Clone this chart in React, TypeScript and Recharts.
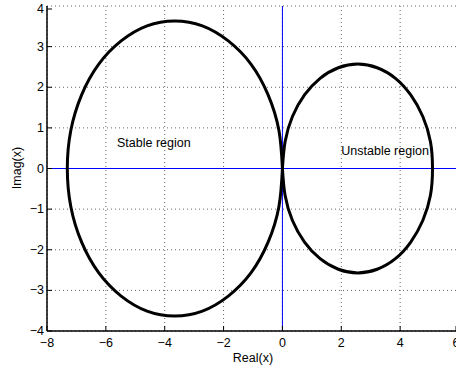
import { ComposedChart, Line, XAxis, YAxis, CartesianGrid, ReferenceLine, ReferenceDot, Label } from 'recharts';

// boundary, traced from the origin round and back
const stableRe = [0, -0.12, -0.49, -1.07, -1.84, -2.72, -3.66, -4.6, -5.48, -6.24, -6.82, -7.19, -7.31, -7.19, -6.82, -6.24, -5.48, -4.6, -3.66, -2.72, -1.84, -1.07, -0.49, -0.12, 0];
const stableIm = [0, 0.94, 1.82, 2.57, 3.14, 3.51, 3.63, 3.51, 3.14, 2.57, 1.82, 0.94, 0, -0.94, -1.82, -2.57, -3.14, -3.51, -3.63, -3.51, -3.14, -2.57, -1.82, -0.94, 0];
const unstableRe = [0, 0.09, 0.34, 0.75, 1.28, 1.9, 2.56, 3.22, 3.84, 4.36, 4.77, 5.03, 5.1, 5.03, 4.77, 4.36, 3.84, 3.22, 2.56, 1.9, 1.28, 0.75, 0.34, 0.09, 0];
const unstableIm = [0, 0.66, 1.28, 1.81, 2.22, 2.48, 2.57, 2.48, 2.22, 1.81, 1.28, 0.66, 0, -0.66, -1.28, -1.81, -2.22, -2.48, -2.57, -2.48, -2.22, -1.81, -1.28, -0.66, 0];

const xTicks = [-8, -6, -4, -2, 0, 2, 4, 6];
const yTicks = [-4, -3, -2, -1, 0, 1, 2, 3, 4];

const stable = stableRe.map((x, i) => ({ x, y: stableIm[i] }));
const unstable = unstableRe.map((x, i) => ({ x, y: unstableIm[i] }));

const FONT = '"Liberation Sans", Arial, sans-serif';
const FS = 12.5;
const fmt = (v: number) => (v < 0 ? `\u2212${-v}` : `${v}`);

const BottomTick = (props: any) => {
  const { x, y, payload } = props;
  return (
    <g>
      <line x1={x} y1={y} x2={x} y2={y - 5} stroke="#000" />
      <text x={x} y={y + 12} textAnchor="middle" dominantBaseline="central" fontSize={FS} fontFamily={FONT} fill="#000">
        {fmt(payload.value)}
      </text>
    </g>
  );
};

const TopTick = (props: any) => {
  const { x, y } = props;
  return <line x1={x} y1={y} x2={x} y2={y + 5} stroke="#000" />;
};

const LeftTick = (props: any) => {
  const { x, y, payload } = props;
  return (
    <g>
      <line x1={x} y1={y} x2={x + 5} y2={y} stroke="#000" />
      <text x={x - 3} y={y} textAnchor="end" dominantBaseline="central" fontSize={FS} fontFamily={FONT} fill="#000">
        {fmt(payload.value)}
      </text>
    </g>
  );
};

const regionText = (text: string) => (p: any) => (
  <text x={p.cx} y={p.cy} dominantBaseline="central" fontSize={FS} fontFamily={FONT} fill="#000">
    {text}
  </text>
);

export default function App() {
  return (
    <div style={{ position: 'absolute', left: 0, top: 0, width: 456, height: 369, overflow: 'hidden', background: '#fff' }}>
      <ComposedChart width={460} height={369} margin={{ top: 6, right: 1, bottom: 0, left: 7 }}>
        <CartesianGrid stroke="#666" strokeDasharray="1 3" />
        <XAxis
          dataKey="x"
          type="number"
          domain={[-8, 6]}
          ticks={xTicks}
          allowDataOverflow
          height={38}
          tickSize={0}
          tickMargin={0}
          tick={BottomTick}
          axisLine={{ stroke: '#000', strokeWidth: 1.5 }}
          tickLine={false}
        >
          <Label
            content={() => (
              <text x={253} y={358} textAnchor="middle" dominantBaseline="central" fontSize={FS} fontFamily={FONT} fill="#000">
                Real(x)
              </text>
            )}
          />
        </XAxis>
        <XAxis
          xAxisId="top"
          orientation="top"
          type="number"
          domain={[-8, 6]}
          ticks={xTicks}
          height={0}
          tickSize={0}
          tickMargin={0}
          tick={TopTick}
          axisLine={{ stroke: '#000', strokeWidth: 1.5 }}
          tickLine={false}
        />
        <YAxis
          type="number"
          domain={[-4, 4]}
          ticks={yTicks}
          allowDataOverflow
          width={40}
          tickSize={0}
          tickMargin={0}
          tick={LeftTick}
          axisLine={{ stroke: '#000', strokeWidth: 1.5 }}
          tickLine={false}
        >
          <Label
            content={() => (
              <text x={17} y={168} transform="rotate(-90 17 168)" textAnchor="middle" dominantBaseline="central" fontSize={FS} fontFamily={FONT} fill="#000">
                Imag(x)
              </text>
            )}
          />
        </YAxis>
        <ReferenceLine x={0} stroke="#0000ff" strokeWidth={1} />
        <ReferenceLine y={0} stroke="#0000ff" strokeWidth={1} />
        <Line data={stable} dataKey="y" type="natural" stroke="#000" strokeWidth={3} dot={false} activeDot={false} isAnimationActive={false} />
        <Line data={unstable} dataKey="y" type="natural" stroke="#000" strokeWidth={3} dot={false} activeDot={false} isAnimationActive={false} />
        <ReferenceDot x={-5.62} y={0.63} r={0} shape={regionText('Stable region')} />
        <ReferenceDot x={2.0} y={0.44} r={0} shape={regionText('Unstable region')} />
      </ComposedChart>
    </div>
  );
}
